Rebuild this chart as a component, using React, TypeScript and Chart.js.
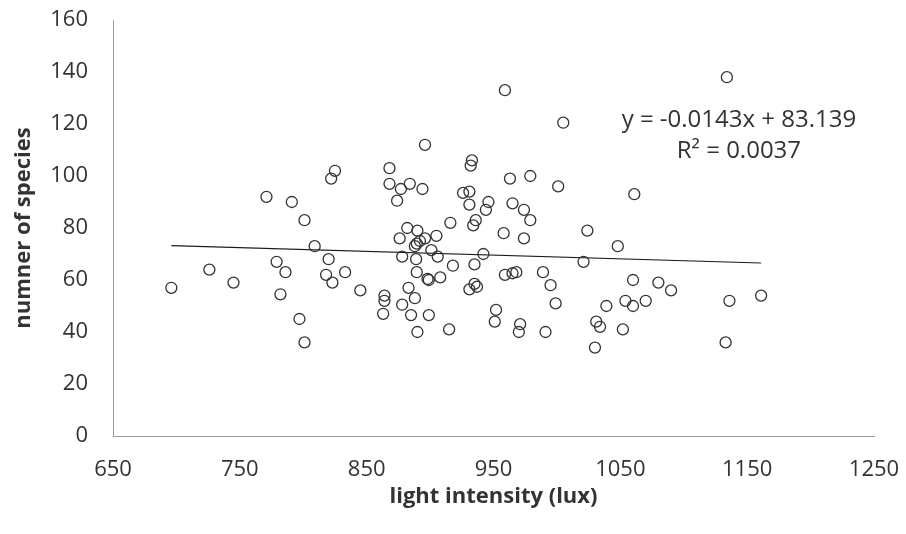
import React, { useEffect, useRef } from "react";
import { Chart, registerables } from "chart.js";

Chart.register(...registerables);

const lightIntensity = [
  825, 822, 771, 791, 801, 809, 820, 779, 726, 786, 818, 833, 823, 745, 696, 845, 782, 864, 864, 863, 797, 801,
  1005, 896, 933, 932, 868, 868, 963, 979, 884, 877, 894, 1001, 874, 931, 926, 931, 946, 944, 965, 974, 979, 936,
  934, 916, 958, 974, 882, 890, 876, 896, 905, 892, 889.5, 888, 901, 906, 878, 889, 942, 918, 935,
  889.5, 898, 899, 908, 935, 937, 931, 959, 965, 968, 989, 995, 999, 883, 888, 878, 885, 899, 890, 915, 952, 951,
  971, 970, 991,
  1134, 959, 1061, 1024, 1048, 1021, 1060, 1080, 1090, 1039, 1054, 1060, 1070, 1031, 1034, 1052, 1030, 1136, 1161, 1133,
];
const speciesCount = [
  102, 99, 92, 90, 83, 73, 68, 67, 64, 63, 62, 63, 59, 59, 57, 56, 54.5, 54, 52, 47, 45, 36,
  120.5, 112, 106, 104, 103, 97, 99, 100, 97, 95, 95, 96, 90.5, 94, 93.5, 89, 90, 87, 89.5, 87, 83, 83,
  81, 82, 78, 76, 80, 79, 76, 76, 77, 75, 74, 73, 71.5, 69, 69, 68, 70, 65.5, 66,
  63, 60.4, 60, 61, 58.5, 57.4, 56.4, 62, 62.6, 63, 63, 58, 51, 57, 53, 50.5, 46.5, 46.5, 40, 41, 48.5, 44,
  43, 40, 40,
  138, 133, 93, 79, 73, 67, 60, 59, 56, 50, 52, 50, 52, 44, 42, 41, 34, 52, 54, 36,
];

const trendSlope = -0.0143;
const trendIntercept = 83.139;
const equationLines = ["y = -0.0143x + 83.139", "R² = 0.0037"];

const xTitle = "light intensity (lux)";
const yTitle = "numner of species";

export default function App() {
  const canvasRef = useRef<HTMLCanvasElement | null>(null);

  useEffect(() => {
    document.body.style.margin = "0";
    const canvas = canvasRef.current;
    if (!canvas) return;

    const points = lightIntensity.map((x, i) => ({ x, y: speciesCount[i] }));
    const minX = Math.min(...lightIntensity);
    const maxX = Math.max(...lightIntensity);
    const trend = [minX, maxX].map((x) => ({ x, y: trendSlope * x + trendIntercept }));

    const textColor = "#333333";
    const family = "'Open Sans', sans-serif";

    const equationPlugin = {
      id: "equation",
      afterDraw(chart: any) {
        const { ctx, scales } = chart;
        const cx = scales.x.getPixelForValue(1143.5);
        const y1 = scales.y.getPixelForValue(121.3);
        const y2 = scales.y.getPixelForValue(109.5);
        ctx.save();
        ctx.fillStyle = textColor;
        ctx.font = `24px ${family}`;
        ctx.textAlign = "center";
        ctx.textBaseline = "middle";
        ctx.fillText(equationLines[0], cx, y1);
        ctx.fillText(equationLines[1], cx, y2);
        ctx.restore();
      },
    };

    const chart = new Chart(canvas, {
      type: "scatter",
      data: {
        datasets: [
          {
            label: "data",
            data: points,
            pointRadius: 5.5,
            pointBorderWidth: 1.3,
            pointBorderColor: "#333333",
            pointBackgroundColor: "rgba(0,0,0,0)",
            showLine: false,
          },
          {
            label: "trend",
            data: trend,
            showLine: true,
            pointRadius: 0,
            borderColor: "#1a1a1a",
            borderWidth: 1.2,
          },
        ],
      },
      options: {
        responsive: false,
        animation: false,
        events: [],
        layout: { padding: { top: 20, right: 32, left: 0, bottom: 0 }, autoPadding: false },
        plugins: { legend: { display: false }, tooltip: { enabled: false } },
        scales: {
          x: {
            type: "linear",
            min: 650,
            max: 1250,
            ticks: {
              stepSize: 100,
              color: textColor,
              font: { size: 22, family },
              padding: 0,
              maxRotation: 0,
              callback: (v: any) => String(v),
            },
            grid: { display: false, drawTicks: true, tickLength: 21 },
            border: { display: true, color: "#9a9a9a", width: 1 },
            title: {
              display: true,
              text: xTitle,
              color: textColor,
              font: { size: 22, weight: "bold", family },
              padding: { top: 0, bottom: 24 },
            },
            afterFit(scale: any) {
              scale.height = 98;
            },
          },
          y: {
            type: "linear",
            min: 0,
            max: 160,
            ticks: {
              stepSize: 20,
              color: textColor,
              font: { size: 22, family },
              padding: 0,
              callback: (v: any) => String(v),
            },
            grid: { display: false, drawTicks: true, tickLength: 25 },
            border: { display: true, color: "#9a9a9a", width: 1 },
            title: {
              display: true,
              text: yTitle,
              color: textColor,
              font: { size: 22, weight: "bold", family },
              padding: { top: 11, bottom: 0 },
            },
            afterFit(scale: any) {
              scale.width = 113;
            },
          },
        },
      },
      plugins: [equationPlugin],
    } as any);

    return () => chart.destroy();
  }, []);

  return (
    <div style={{ width: 906, height: 534, background: "#fff" }}>
      <canvas ref={canvasRef} width={906} height={534} />
    </div>
  );
}
